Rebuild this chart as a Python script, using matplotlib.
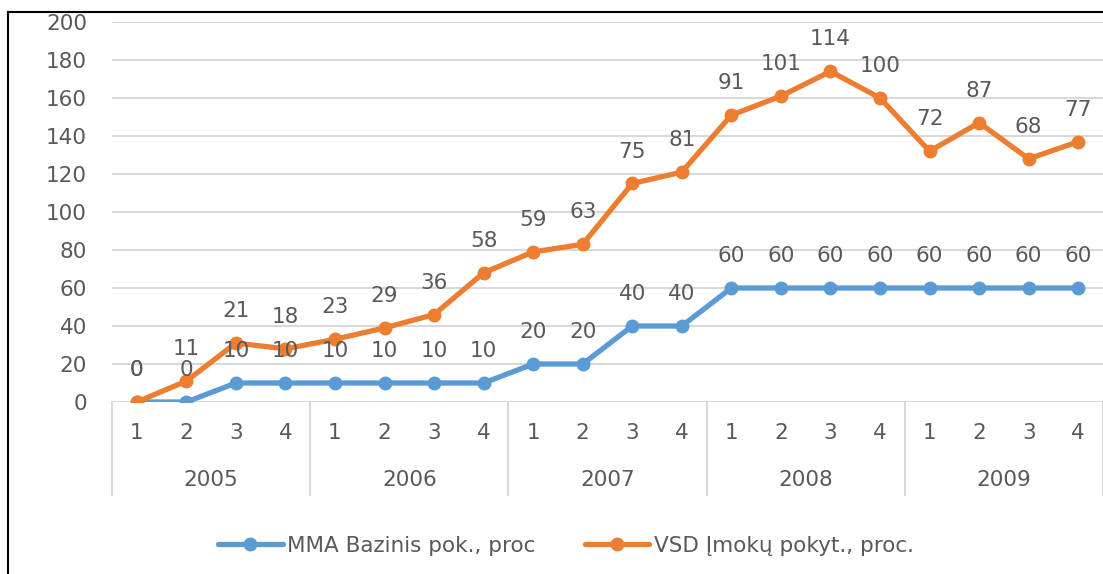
import matplotlib.pyplot as plt
import numpy as np
from matplotlib.lines import Line2D
from matplotlib.transforms import blended_transform_factory

years = ["2005", "2006", "2007", "2008", "2009"]
quarters = ["1", "2", "3", "4"]
mma = [0, 0, 10, 10, 10, 10, 10, 10, 20, 20, 40, 40, 60, 60, 60, 60, 60, 60, 60, 60]
vsd = [0, 11, 21, 18, 23, 29, 36, 58, 59, 63, 75, 81, 91, 101, 114, 100, 72, 87, 68, 77]
names = ["MMA Bazinis pok., proc", "VSD Įmokų pokyt., proc."]
colors = ["#5B9BD5", "#ED7D31"]

text_col = "#595959"
grid_col = "#D9D9D9"
fs = 15.5
plt.rcParams["font.family"] = ["DejaVu Sans"]

fig = plt.figure(figsize=(11.03, 5.74), dpi=100)
ax = fig.add_axes([112 / 1103, 1 - 402 / 574, 991 / 1103, 380 / 574])

x = np.arange(len(mma))
# stacked line chart: second series drawn on top of the first
stacked = np.array(mma) + np.array(vsd)
for ys, lbls, col, name in [(np.array(mma), mma, colors[0], names[0]),
                            (stacked, vsd, colors[1], names[1])]:
    ax.plot(x, ys, color=col, lw=3.8, marker="o", ms=9, label=name,
            solid_capstyle="round", zorder=3)
    for xi, yi, lb in zip(x, ys, lbls):
        ax.annotate(str(lb), (xi, yi), xytext=(0, 23), textcoords="offset points",
                    ha="center", va="center", fontsize=fs, color=text_col, zorder=4)

ax.set_xlim(-0.5, len(mma) - 0.5)
ax.set_ylim(0, 200)
ax.set_yticks(range(0, 201, 20))
ax.yaxis.grid(True, color=grid_col, lw=1.5)
ax.set_axisbelow(True)
for s in ax.spines.values():
    s.set_visible(False)
ax.tick_params(axis="y", length=0, pad=18, labelsize=fs, labelcolor=text_col)

ax.set_xticks(x)
ax.set_xticklabels(quarters * len(years))
ax.tick_params(axis="x", length=0, pad=15, labelsize=fs, labelcolor=text_col)

trans = blended_transform_factory(ax.transData, ax.transAxes)
for i, yr in enumerate(years):
    ax.text(i * 4 + 1.5, -0.205, yr, transform=trans, ha="center", va="center",
            fontsize=fs, color=text_col)
for i in range(len(years) + 1):
    ax.plot([i * 4 - 0.5] * 2, [0, -0.245], transform=trans, color=grid_col,
            lw=1.5, clip_on=False)

fig.legend(loc="center", bbox_to_anchor=(0.513, 0.049), ncol=2, frameon=False,
           fontsize=fs, labelcolor=text_col, handlelength=3.0, handletextpad=0.2,
           columnspacing=2.3)

# frame fragments along the top and left edges
fig.add_artist(Line2D([8 / 1103, 1], [1 - 12 / 574] * 2, color="black", lw=1.5))
fig.add_artist(Line2D([8 / 1103] * 2, [0, 1 - 12 / 574], color="black", lw=1.5))

fig.savefig("out.png", dpi=100)
